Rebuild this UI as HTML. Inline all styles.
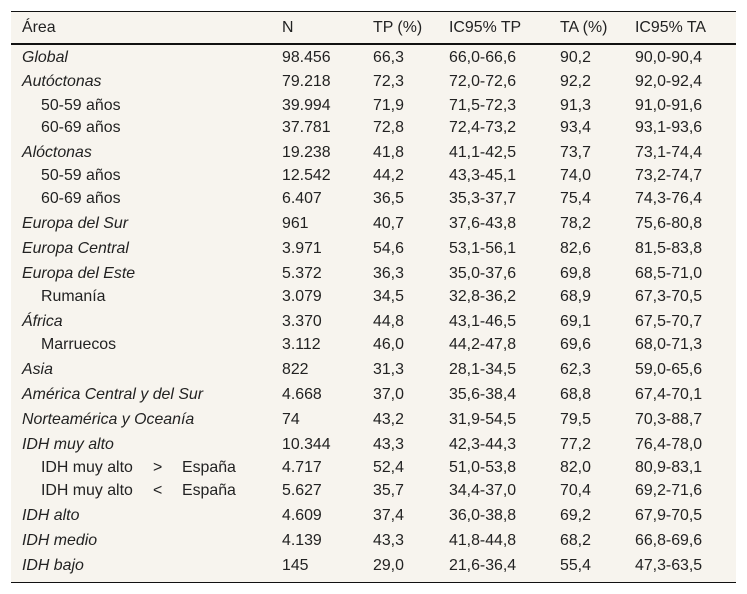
<!DOCTYPE html>
<html lang="es">
<head>
<meta charset="utf-8">
<title>Tabla por área</title>
<style>
html,body{margin:0;padding:0;background:#fff;}
#wrap{position:relative;width:747px;height:594px;overflow:hidden;font-family:"Liberation Sans",sans-serif;font-size:15.9px;color:#222;}
#bg{position:absolute;left:11px;top:11px;width:725px;height:572px;background:#f7f4ee;}
.ln{position:absolute;left:11px;width:725px;background:#111;}
.c{position:absolute;line-height:18px;height:18px;white-space:nowrap;}
.i{font-style:italic;}
</style>
</head>
<body>
<div id="wrap">
<div id="bg"></div>
<div class="ln" style="top:11px;height:1px"></div>
<div class="ln" style="top:43px;height:2px"></div>
<div class="ln" style="top:582px;height:1px"></div>
<div id="rows"></div>
</div>
<script>
const labels=["Área","Global","Autóctonas","50-59 años","60-69 años","Alóctonas","50-59 años","60-69 años","Europa del Sur","Europa Central","Europa del Este","Rumanía","África","Marruecos","Asia","América Central y del Sur","Norteamérica y Oceanía","IDH muy alto","IDH muy alto","IDH muy alto","IDH alto","IDH medio","IDH bajo"];
const rowStyles=["h","i","i","s","s","i","s","s","i","i","i","s","i","s","i","i","i","i","s","s","i","i","i"];
const centers=[28,58,82,106,128,153,176,199,224,249,274,297,322,345,370,395,420,445,468,491,516,541,566];
const extras={18:[">","España"],19:["<","España"]};
const colN=["N","98.456","79.218","39.994","37.781","19.238","12.542","6.407","961","3.971","5.372","3.079","3.370","3.112","822","4.668","74","10.344","4.717","5.627","4.609","4.139","145"];
const colTP=["TP (%)","66,3","72,3","71,9","72,8","41,8","44,2","36,5","40,7","54,6","36,3","34,5","44,8","46,0","31,3","37,0","43,2","43,3","52,4","35,7","37,4","43,3","29,0"];
const colIcTP=["IC95% TP","66,0-66,6","72,0-72,6","71,5-72,3","72,4-73,2","41,1-42,5","43,3-45,1","35,3-37,7","37,6-43,8","53,1-56,1","35,0-37,6","32,8-36,2","43,1-46,5","44,2-47,8","28,1-34,5","35,6-38,4","31,9-54,5","42,3-44,3","51,0-53,8","34,4-37,0","36,0-38,8","41,8-44,8","21,6-36,4"];
const colTA=["TA (%)","90,2","92,2","91,3","93,4","73,7","74,0","75,4","78,2","82,6","69,8","68,9","69,1","69,6","62,3","68,8","79,5","77,2","82,0","70,4","69,2","68,2","55,4"];
const colIcTA=["IC95% TA","90,0-90,4","92,0-92,4","91,0-91,6","93,1-93,6","73,1-74,4","73,2-74,7","74,3-76,4","75,6-80,8","81,5-83,8","68,5-71,0","67,3-70,5","67,5-70,7","68,0-71,3","59,0-65,6","67,4-70,1","70,3-88,7","76,4-78,0","80,9-83,1","69,2-71,6","67,9-70,5","66,8-69,6","47,3-63,5"];
const columns=[[colN,282,"n"],[colTP,373,"tp"],[colIcTP,449,"ic-tp"],[colTA,560,"ta"],[colIcTA,635,"ic-ta"]];
const root=document.getElementById('rows');
function cell(text,x,y,cls,name){
  const el=document.createElement('div');
  el.className='c '+cls;
  el.style.left=x+'px';
  el.style.top=(y-9)+'px';
  el.textContent=text;
  
  
  root.appendChild(el);
}
labels.forEach(function(t,r){
  const st=rowStyles[r];
  cell(t,st==='s'?41:22,centers[r],st==='i'?'i':'','area-label');
  if(extras[r]){
    cell(extras[r][0],153,centers[r],'','comparison-sign');
    cell(extras[r][1],182,centers[r],'','comparison-country');
  }
  columns.forEach(function(c){
    cell(c[0][r],c[1],centers[r],'',c[2]+'-cell');
  });
});
</script>
</body>
</html>
